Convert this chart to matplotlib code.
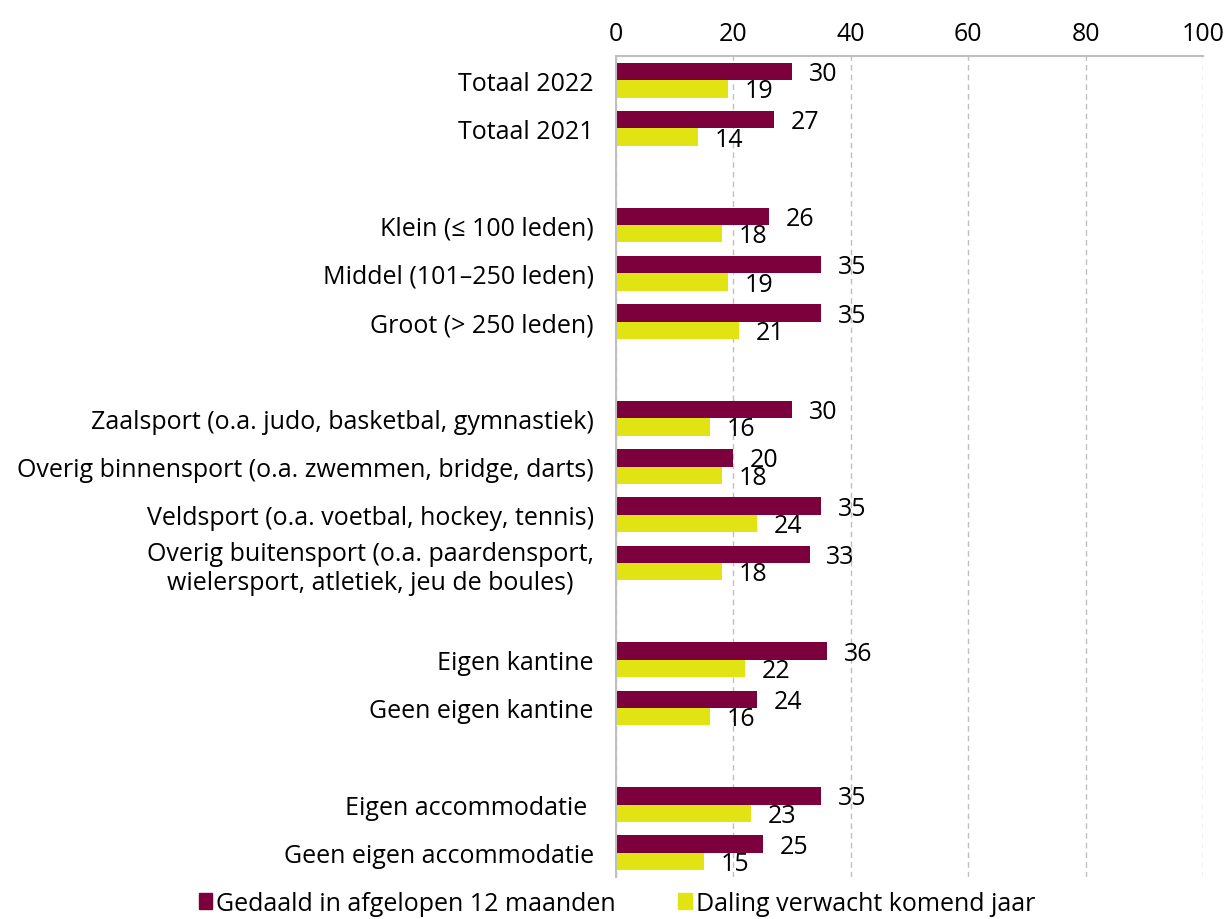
import numpy as np
import matplotlib
matplotlib.use("Agg")
import matplotlib.pyplot as plt
from matplotlib.patches import Patch

plt.rcParams["font.family"] = ["Open Sans", "DejaVu Sans"]

# categories, blank entries are the gaps between groups
categories = [
    "Totaal 2022", "Totaal 2021", "",
    "Klein (\u2264 100 leden)", "Middel (101\u2013250 leden)", "Groot (> 250 leden)", "",
    "Zaalsport (o.a. judo, basketbal, gymnastiek)",
    "Overig binnensport (o.a. zwemmen, bridge, darts)",
    "Veldsport (o.a. voetbal, hockey, tennis)",
    "Overig buitensport (o.a. paardensport,\nwielersport, atletiek, jeu de boules)", "",
    "Eigen kantine", "Geen eigen kantine", "",
    "Eigen accommodatie ", "Geen eigen accommodatie",
]
# None = gap row
gedaald = [30, 27, None, 26, 35, 35, None, 30, 20, 35, 33, None, 36, 24, None, 35, 25]
daling = [19, 14, None, 18, 19, 21, None, 16, 18, 24, 18, None, 22, 16, None, 23, 15]
series_names = ["Gedaald in afgelopen 12 maanden", "Daling verwacht komend jaar"]
colors = ["#7B003C", "#E2E312"]

fig = plt.figure(figsize=(12.29, 9.2), dpi=100)
ax = fig.add_axes([616 / 1229, 1 - 878 / 920, 587 / 1229, 821 / 920])

y = np.arange(len(categories))
h = 0.36
for k, (vals, col) in enumerate(zip([gedaald, daling], colors)):
    for yi, v in zip(y, vals):
        if v is None:
            continue
        yy = yi - h / 2 + k * h
        ax.barh(yy, v, height=h, color=col, edgecolor="none")
        ax.annotate(f"{v}", (v, yy), xytext=(12, -1.5), textcoords="offset points",
                    ha="left", va="center", fontsize=18)

ax.set_xlim(0, 100)
ax.set_ylim(len(categories) - 0.5, -0.5)
ax.xaxis.tick_top()
ax.set_xticks(np.arange(0, 101, 20))
ax.tick_params(axis="x", length=0, labelsize=18, pad=7)
ax.set_yticks(y)
ax.set_yticklabels(categories, fontsize=18, multialignment="center")
ax.tick_params(axis="y", length=0, pad=16)
ax.grid(axis="x", color="#bfbfbf", linestyle=(0, (4, 3)), linewidth=1)
ax.set_axisbelow(True)
for s in ["right", "bottom"]:
    ax.spines[s].set_visible(False)
for s in ["top", "left"]:
    ax.spines[s].set_color("#bfbfbf")
    ax.spines[s].set_linewidth(1.5)

handles = [Patch(color=c) for c in colors]
fig.legend(handles, series_names, loc="lower center", bbox_to_anchor=(0.502, -0.021),
           ncol=2, frameon=False, fontsize=18, handlelength=0.55, handleheight=0.55,
           handletextpad=0.15, columnspacing=2.5)

fig.savefig("out.png", dpi=100)
